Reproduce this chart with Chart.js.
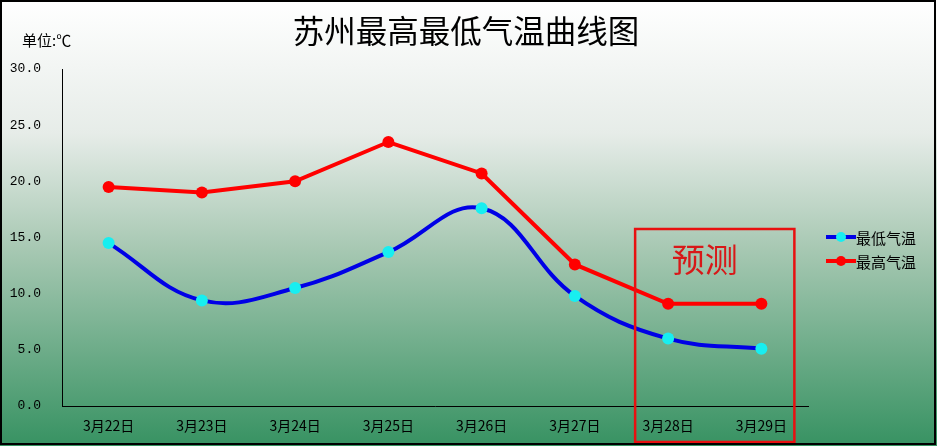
<!DOCTYPE html>
<html>
<head>
<meta charset="utf-8">
<script src="https://cdn.jsdelivr.net/npm/chart.js@4.4.1/dist/chart.umd.min.js"></script>
<style>
  body { margin: 0; background: #fff; }
  #wrap { width: 937px; height: 446px; }
</style>
</head>
<body>
<div id="wrap"><canvas id="chart" width="937" height="446"></canvas></div>
<script>
const days = ['3月22日', '3月23日', '3月24日', '3月25日', '3月26日', '3月27日', '3月28日', '3月29日'];
const lowTemps = [14.5, 9.4, 10.5, 13.7, 17.6, 9.8, 6.0, 5.1];
const highTemps = [19.5, 19.0, 20.0, 23.5, 20.7, 12.6, 9.1, 9.1];
const forecastDays = ['3月28日', '3月29日'];
const yTicks = [0, 5, 10, 15, 20, 25, 30];

const cjk = '"Noto Sans CJK SC", "Noto Sans", sans-serif';

// background, border, title, unit, forecast box and legend
const decor = {
    id: 'decor',
    beforeDraw(chart) {
        const ctx = chart.ctx;
        const g = ctx.createLinearGradient(0, 0, 0, chart.height);
        g.addColorStop(0, '#ffffff');
        g.addColorStop(0.3, '#e6ece8');
        g.addColorStop(0.55, '#a9c9b4');
        g.addColorStop(1, '#379262');
        ctx.save();
        ctx.fillStyle = g;
        ctx.fillRect(0, 0, chart.width, chart.height);
        ctx.restore();
    },
    afterDraw(chart) {
        const ctx = chart.ctx;
        const x = chart.scales.x;
        ctx.save();

        ctx.fillStyle = '#000';
        ctx.textAlign = 'center';
        ctx.textBaseline = 'middle';
        ctx.font = '31.5px ' + cjk;
        ctx.fillText('苏州最高最低气温曲线图', 466, 31);

        ctx.textAlign = 'left';
        ctx.font = '15px ' + cjk;
        ctx.fillText('单位:℃', 22, 40);

        // forecast box around the last two days
        const x1 = x.getPixelForValue(days.indexOf(forecastDays[0])) - 33;
        const x2 = x.getPixelForValue(days.indexOf(forecastDays[1])) + 33;
        ctx.strokeStyle = '#e81010';
        ctx.lineWidth = 2.5;
        ctx.strokeRect(x1, 229, x2 - x1, 213);
        ctx.fillStyle = '#d81818';
        ctx.textAlign = 'center';
        ctx.font = '33px ' + cjk;
        ctx.fillText('预测', (x1 + x2) / 2 - 10, 259);

        // legend
        const items = [
            { label: '最低气温', line: '#0000e6', dot: '#18eef0', y: 237 },
            { label: '最高气温', line: '#ff0000', dot: '#ff0000', y: 261 },
        ];
        items.forEach(it => {
            ctx.strokeStyle = it.line;
            ctx.lineWidth = 4;
            ctx.beginPath();
            ctx.moveTo(826, it.y);
            ctx.lineTo(856, it.y);
            ctx.stroke();
            ctx.fillStyle = it.dot;
            ctx.beginPath();
            ctx.arc(841, it.y, 5, 0, Math.PI * 2);
            ctx.fill();
            ctx.fillStyle = '#000';
            ctx.textAlign = 'left';
            ctx.font = '15px ' + cjk;
            ctx.fillText(it.label, 856, it.y + 1);
        });

        ctx.strokeStyle = '#000';
        ctx.lineWidth = 2;
        ctx.strokeRect(1, 1, 934, 443);
        ctx.restore();
    }
};

new Chart(document.getElementById('chart'), {
    type: 'line',
    data: {
        labels: days,
        datasets: [{
            label: '最低气温',
            data: lowTemps,
            borderColor: '#0000e6',
            backgroundColor: '#18eef0',
            borderWidth: 4,
            tension: 0.4,
            pointRadius: 6,
            pointBorderWidth: 0,
            pointBackgroundColor: '#18eef0',
        }, {
            label: '最高气温',
            data: highTemps,
            borderColor: '#ff0000',
            backgroundColor: '#ff0000',
            borderWidth: 4,
            tension: 0,
            pointRadius: 6,
            pointBorderWidth: 0,
            pointBackgroundColor: '#ff0000',
        }]
    },
    options: {
        responsive: false,
        animation: false,
        devicePixelRatio: 1,
        layout: { padding: { left: 0, right: 129, top: 69, bottom: 0 } },
        plugins: {
            legend: { display: false },
            title: { display: false },
            tooltip: { enabled: false },
        },
        scales: {
            x: {
                offset: true,
                grid: { display: false, drawTicks: false },
                border: { display: true, color: '#000', width: 1 },
                ticks: {
                    color: '#000',
                    font: { family: cjk, size: 14 },
                    padding: 11,
                    maxRotation: 0,
                },
                afterFit(scale) { scale.height = 40; },
            },
            y: {
                min: 0,
                max: 30,
                afterBuildTicks(scale) { scale.ticks = yTicks.map(v => ({ value: v })); },
                grid: { display: false, drawTicks: false },
                border: { display: true, color: '#000', width: 1 },
                ticks: {
                    color: '#000',
                    font: { family: '"Liberation Mono", monospace', size: 13 },
                    padding: 21,
                    callback: v => v.toFixed(1),
                },
                afterFit(scale) { scale.width = 62; },
            }
        }
    },
    plugins: [decor]
});
</script>
</body>
</html>
